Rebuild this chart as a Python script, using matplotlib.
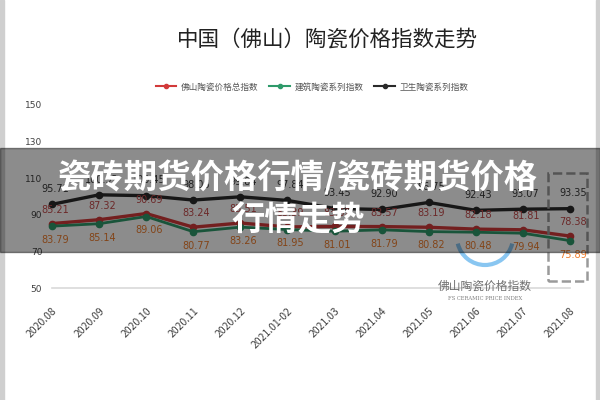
import matplotlib.pyplot as plt
from matplotlib.patches import Rectangle, Arc
from matplotlib.lines import Line2D

plt.rcParams['font.family'] = ['Noto Sans CJK SC', 'DejaVu Sans']

# 月份
months = ['2020.08', '2020.09', '2020.10', '2020.11', '2020.12', '2021.01-02',
          '2021.03', '2021.04', '2021.05', '2021.06', '2021.07', '2021.08']
# 佛山陶瓷价格总指数
total_idx = [85.21, 87.32, 90.69, 83.24, 85.51, 83.39, 83.62, 83.57, 83.19, 82.18, 81.81, 78.38]
# 建筑陶瓷系列指数
build_idx = [83.79, 85.14, 89.06, 80.77, 83.26, 81.95, 81.01, 81.79, 80.82, 80.48, 79.94, 75.89]
# 卫生陶瓷系列指数
sanit_idx = [95.71, 100.92, 100.45, 98.06, 99.84, 97.84, 93.45, 92.90, 96.75, 92.43, 93.07, 93.35]
yticks = [50, 70, 90, 110, 130, 150]

red = '#d23a3a'
green = '#2e9a6a'
black = '#2a2a2a'

fig = plt.figure(figsize=(6, 4), dpi=100)
ax = fig.add_axes([52/600, 1-288/400, 518/600, 183/400])

x = list(range(len(months)))
ax.plot(x, total_idx, color=red, lw=2.4, marker='o', ms=4.5, clip_on=False, zorder=3)
ax.plot(x, build_idx, color=green, lw=2.0, marker='o', ms=4.5, clip_on=False, zorder=3)
ax.plot(x, sanit_idx, color=black, lw=2.4, marker='o', ms=4.5, clip_on=False, zorder=3)

# 数据标签
for i in x:
    ax.annotate(f'{sanit_idx[i]:.2f}', (i, sanit_idx[i]), xytext=(2, 11), textcoords='offset points',
                ha='center', va='center', fontsize=7, color='#3a3a3a', family='DejaVu Sans')
    ax.annotate(f'{total_idx[i]:.2f}', (i, total_idx[i]), xytext=(2, 10), textcoords='offset points',
                ha='center', va='center', fontsize=7, color='#c44a4a', family='DejaVu Sans')
    ax.annotate(f'{build_idx[i]:.2f}', (i, build_idx[i]), xytext=(2, -10), textcoords='offset points',
                ha='center', va='center', fontsize=7, color='#ef7d2c', family='DejaVu Sans')

ax.set_xlim(0, 11)
ax.set_ylim(50, 150)
ax.set_yticks(yticks)
ax.set_yticklabels([str(v) for v in yticks], fontsize=6.5, color='#404040', family='DejaVu Sans')
ax.set_xticks(x)
ax.set_xticklabels(months, rotation=45, ha='right', va='top', rotation_mode='anchor',
                   fontsize=7.5, color='#404040')
ax.tick_params(length=0, pad=7)
ax.tick_params(axis='x', pad=13)
for s in ['top', 'right', 'left']:
    ax.spines[s].set_visible(False)
ax.spines['bottom'].set_color('#d9d9d9')
ax.spines['bottom'].set_linewidth(1.2)

# 标题
fig.text(327/600, 1-40/400, '中国（佛山）陶瓷价格指数走势', ha='center', va='center',
         fontsize=15.5, color='#222222')

# 图例
handles = [Line2D([0], [0], color=c, lw=1.5, marker='o', ms=3) for c in (red, green, black)]
fig.legend(handles, ['佛山陶瓷价格总指数', '建筑陶瓷系列指数', '卫生陶瓷系列指数'],
           loc='center', bbox_to_anchor=(312/600, 1-87/400), ncol=3, frameon=False,
           fontsize=6.2, handlelength=2.4, columnspacing=1.3, handletextpad=0.5,
           labelcolor='#555555')

# 水印
fig.text(485/600, 1-286/400, '佛山陶瓷价格指数', ha='center', va='center', fontsize=8.5, color='#707070')
fig.text(485/600, 1-299/400, 'FS CERAMIC PRICE INDEX', ha='center', va='center', fontsize=3.8,
         color='#808080', family='DejaVu Serif')
fig.patches.append(Arc((485/600, 1-237/400), 56/600, 56/400, theta1=200, theta2=340,
                       transform=fig.transFigure, color='#6cb8ee', lw=3, alpha=0.8))
fig.patches.append(Rectangle((548/600, 1-281/400), 39/600, 108/400, transform=fig.transFigure,
                             fill=False, ls='--', lw=1.8, ec='#9a9a9a'))

# 边框
fig.patches.append(Rectangle((0, 0), 4/600, 1, transform=fig.transFigure, color='#cfcfcf'))
fig.patches.append(Rectangle((596/600, 0), 4/600, 1, transform=fig.transFigure, color='#cfcfcf'))

# 横幅
fig.patches.append(Rectangle((0, 1-252/400), 1, 104/400, transform=fig.transFigure,
                             color='black', alpha=0.45, zorder=10))
fig.text(298/600, 1-178/400, '瓷砖期货价格行情/瓷砖期货价格', ha='center', va='center',
         fontsize=24, fontweight='bold', color='white', zorder=11)
fig.text(298/600, 1-221/400, '行情走势', ha='center', va='center',
         fontsize=24, fontweight='bold', color='white', zorder=11)

fig.savefig('out.png', dpi=100, facecolor='white')
